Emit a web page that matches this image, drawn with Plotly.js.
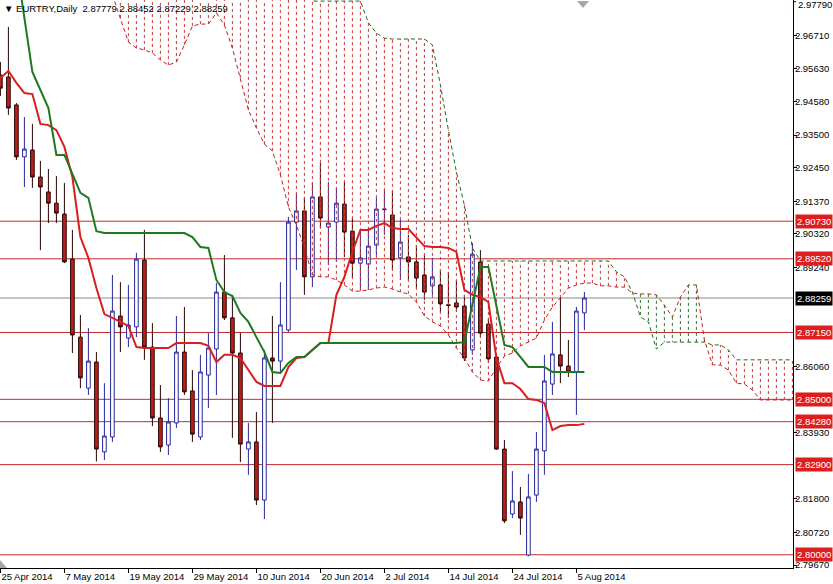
<!DOCTYPE html>
<html>
<head>
<meta charset="utf-8">
<script src="https://cdn.plot.ly/plotly-3.0.1.min.js"></script>
<style>html,body{margin:0;padding:0;background:#fff;}#chart{width:833px;height:584px;}</style>
</head>
<body>
<div id="chart"></div>
<script>
// ---- data (EURTRY daily, bar index 0 = 25 Apr 2014) ----
const tickIdx  = [0, 8, 16, 24, 32, 40, 48, 56, 64, 72];
const tickText = ['25 Apr 2014','7 May 2014','19 May 2014','29 May 2014','10 Jun 2014','20 Jun 2014','2 Jul 2014','14 Jul 2014','24 Jul 2014','5 Aug 2014'];

const openP = [2.9543,2.9537,2.9447,2.9280,2.9302,2.9215,2.9167,2.9131,2.9096,2.8951,
  2.8700,2.8536,2.8620,2.8331,2.8379,2.8768,2.8697,2.8733,2.8948,2.8668,
  2.8440,2.8353,2.8424,2.8652,2.8527,2.8379,2.8578,2.8662,2.8845,2.8762,
  2.8649,2.8340,2.8363,2.8176,2.8633,2.8623,2.8723,2.9070,2.9106,2.8894,
  2.9151,2.9054,2.9070,2.9128,2.9041,2.8938,2.8935,2.8996,2.9110,2.9093,
  2.8955,2.8958,2.8942,2.8900,2.8865,2.8868,2.8804,2.8810,2.8800,2.8659,
  2.8942,2.8742,2.8636,2.8340,2.8131,2.8170,2.7999,2.8192,2.8334,2.8549,
  2.8643,2.8607,2.8588,2.87779];
const highP = [2.9585,2.9698,2.9453,2.9408,2.9386,2.9267,2.9241,2.9218,2.9196,2.9045,
  2.8771,2.8729,2.8652,2.8552,2.8900,2.8877,2.8868,2.8971,2.9045,2.8745,
  2.8546,2.8504,2.8768,2.8797,2.8594,2.8643,2.8713,2.8874,2.8964,2.8836,
  2.8713,2.8424,2.8459,2.8659,2.8768,2.8877,2.9087,2.9164,2.9151,2.9199,
  2.9260,2.9199,2.9180,2.9199,2.9083,2.9045,2.9054,2.9148,2.9173,2.9173,
  2.9077,2.9029,2.8996,2.8964,2.8955,2.8916,2.8910,2.8884,2.8836,2.9003,
  2.8980,2.8762,2.8643,2.8369,2.8269,2.8218,2.8260,2.8395,2.8643,2.8749,
  2.8826,2.8691,2.8797,2.88452];
const lowP = [2.9476,2.9415,2.9270,2.9183,2.9180,2.8980,2.9067,2.9067,2.8938,2.8649,
  2.8536,2.8514,2.8300,2.8305,2.8363,2.8652,2.8668,2.8700,2.8627,2.8414,
  2.8331,2.8321,2.8408,2.8514,2.8363,2.8369,2.8472,2.8514,2.8755,2.8376,
  2.8298,2.8257,2.8160,2.8115,2.8424,2.8585,2.8717,2.8916,2.8836,2.8861,
  2.9051,2.8932,2.8942,2.8958,2.8890,2.8852,2.8852,2.8964,2.9029,2.8916,
  2.8884,2.8884,2.8858,2.8820,2.8836,2.8781,2.8762,2.8781,2.8623,2.8643,
  2.8700,2.8617,2.8337,2.8102,2.8118,2.8064,2.7995,2.8170,2.8257,2.8514,
  2.8552,2.8572,2.8450,2.87229];
const closeP = [2.9501,2.9437,2.9280,2.9305,2.9215,2.9183,2.9131,2.9099,2.8942,2.8707,
  2.8569,2.8623,2.8340,2.8382,2.8784,2.8733,2.8739,2.8951,2.8668,2.8440,
  2.8347,2.8427,2.8652,2.8524,2.8388,2.8588,2.8665,2.8845,2.8762,2.8649,
  2.8356,2.8363,2.8176,2.8633,2.8623,2.8739,2.9070,2.9106,2.8894,2.9151,
  2.9083,2.9067,2.9131,2.9038,2.8938,2.8955,2.8993,2.9112,2.9112,2.8948,
  2.9006,2.8942,2.8890,2.8845,2.8894,2.8807,2.8802,2.8797,2.8633,2.8967,
  2.8713,2.8630,2.8340,2.8109,2.8173,2.8118,2.8186,2.8340,2.8559,2.8646,
  2.8607,2.8588,2.8784,2.88259];

const tenkan = [2.9534,2.9556,2.9518,2.9485,2.9482,2.9386,2.9382,2.9366,2.9312,2.9215,
  2.9022,2.8955,2.8858,2.8774,2.8762,2.8749,2.8736,2.8668,2.8665,2.8665,
  2.8665,2.8665,2.8681,2.8681,2.8681,2.8681,2.8672,2.8620,2.8643,2.8643,
  2.8633,2.8594,2.8556,2.8543,2.8543,2.8543,2.8604,2.8633,2.8636,2.8659,
  2.8681,2.8681,2.8836,2.8894,2.8974,2.9045,2.9045,2.9058,2.9067,2.9051,
  2.9048,2.9048,2.9019,2.8993,2.8990,2.8990,2.8987,2.8974,2.8852,2.8836,
  2.8829,2.8813,2.8633,2.8552,2.8552,2.8533,2.8501,2.8498,2.8488,2.8401,
  2.8414,2.8417,2.8417,2.8421];
const kijun = [3.0150,3.0050,2.9900,2.9727,2.9553,2.9495,2.9437,2.9286,2.9286,2.9225,
  2.9164,2.9148,2.9041,2.9035,2.9035,2.9035,2.9035,2.9035,2.9035,2.9035,
  2.9035,2.9035,2.9035,2.9035,2.9022,2.8990,2.8987,2.8884,2.8845,2.8832,
  2.8778,2.8749,2.8700,2.8652,2.8588,2.8585,2.8617,2.8636,2.8636,2.8659,
  2.8681,2.8681,2.8681,2.8681,2.8681,2.8681,2.8681,2.8681,2.8681,2.8681,
  2.8681,2.8681,2.8681,2.8681,2.8681,2.8681,2.8681,2.8681,2.8684,2.8810,
  2.8926,2.8926,2.8803,2.8675,2.8668,2.8636,2.8604,2.8604,2.8604,2.8588,
  2.8588,2.8588,2.8588,2.8588];

// Senkou spans, first value at bar index 14, last at 99 (26 bars ahead)
const spanStart = 14;
const spanA = [2.9801,2.9727,2.9649,2.9630,2.9624,2.9614,2.9592,2.9575,2.9585,2.9640,
  2.9701,2.9707,2.9707,2.9743,2.9704,2.9630,2.9534,2.9431,2.9373,2.9321,
  2.9299,2.9222,2.9119,2.9061,2.8987,2.8900,2.8894,2.8894,2.8884,2.8868,
  2.8848,2.8848,2.8852,2.8858,2.8861,2.8855,2.8845,2.8839,2.8813,2.8768,
  2.8749,2.8736,2.8707,2.8665,2.8633,2.8588,2.8562,2.8559,2.8601,2.8639,
  2.8649,2.8672,2.8684,2.8697,2.8755,2.8797,2.8826,2.8858,2.8868,2.8874,
  2.8874,2.8865,2.8865,2.8861,2.8861,2.8842,2.8839,2.8839,2.8836,2.8803,
  2.8765,2.8829,2.8868,2.8868,2.8691,2.8611,2.8610,2.8594,2.8552,2.8549,
  2.8530,2.8498,2.8498,2.8498,2.8498,2.8498];
const spanB = [2.9900,2.9900,2.9900,2.9900,2.9900,2.9900,2.9900,2.9900,2.9900,2.9900,
  2.9900,2.9900,2.9900,2.9900,2.9900,2.9900,2.9900,2.9900,2.9900,2.9900,
  2.9900,2.9900,2.9900,2.9900,2.9900,2.9781,2.9781,2.9781,2.9781,2.9781,
  2.9781,2.9781,2.9711,2.9678,2.9662,2.9659,2.9659,2.9659,2.9659,2.9659,
  2.9640,2.9511,2.9366,2.9231,2.9125,2.8987,2.8945,2.8945,2.8945,2.8945,
  2.8945,2.8945,2.8945,2.8945,2.8945,2.8945,2.8945,2.8945,2.8945,2.8945,
  2.8945,2.8945,2.8945,2.8910,2.8894,2.8845,2.8765,2.8749,2.8662,2.8684,
  2.8684,2.8684,2.8684,2.8684,2.8684,2.8675,2.8675,2.8659,2.8627,2.8627,
  2.8627,2.8627,2.8627,2.8627,2.8627,2.8627];

const levels   = [2.90730, 2.89520, 2.87150, 2.85000, 2.84280, 2.82900, 2.80000];
const bidPrice = 2.88259;
const topTick  = 2.97790;
const yTickVals = [2.96710,2.95630,2.94580,2.93500,2.92450,2.91370,2.90320,2.89240,2.86060,2.83930,2.81800,2.80720,2.79670];
const headerText = 'EURTRY,Daily  2.87779 2.88452 2.87229 2.88259';

// ---- build traces ----
const idx = openP.map((_, i) => i);
const spanX = spanA.map((_, i) => i + spanStart);

const hatchRed = {x: [], y: []}, hatchGreen = {x: [], y: []};
spanA.forEach((a, k) => {
  const b = spanB[k], xi = spanX[k];
  const h = (b >= a) ? hatchRed : hatchGreen;
  h.x.push(xi, xi, null); h.y.push(a, b, null);
});

const FONT = 'Liberation Sans, Arial, sans-serif';
const traces = [
  {type:'scatter', mode:'lines', x: hatchRed.x, y: hatchRed.y, connectgaps:false,
   line:{color:'#cc3a3a', width:1, dash:'3px,3px'}, hoverinfo:'skip'},
  {type:'scatter', mode:'lines', x: hatchGreen.x, y: hatchGreen.y, connectgaps:false,
   line:{color:'#2d7a2d', width:1, dash:'3px,3px'}, hoverinfo:'skip'},
  {type:'scatter', mode:'lines', x: spanX, y: spanA,
   line:{color:'#c41e1e', width:1, dash:'4px,3px'}, hoverinfo:'skip'},
  {type:'scatter', mode:'lines', x: spanX, y: spanB,
   line:{color:'#1d6a1d', width:1, dash:'4px,3px'}, hoverinfo:'skip'},
  {type:'candlestick', x: idx, open: openP, high: highP, low: lowP, close: closeP,
   increasing:{line:{color:'#25259a', width:1}, fillcolor:'#ffffff'},
   decreasing:{line:{color:'#2a0505', width:1}, fillcolor:'#b8211f'},
   whiskerwidth:0, hoverinfo:'skip'},
  {type:'scatter', mode:'lines', x: idx, y: tenkan,
   line:{color:'#d81f1f', width:2}, hoverinfo:'skip'},
  {type:'scatter', mode:'lines', x: idx, y: kijun,
   line:{color:'#1f7a1f', width:2}, hoverinfo:'skip'}
];

const shapes = levels.map(v => ({type:'line', xref:'paper', x0:0, x1:1, yref:'y', y0:v, y1:v,
  line:{color:'#c42a2a', width:1}, layer:'below'}));
shapes.push({type:'line', xref:'paper', x0:0, x1:1, yref:'y', y0:bidPrice, y1:bidPrice,
  line:{color:'#8a8a8a', width:1}, layer:'below'});
shapes.push({type:'line', xref:'paper', x0:1, x1:1.0038, yref:'y', y0:topTick, y1:topTick,
  line:{color:'#000', width:1}});
shapes.push({type:'path', xref:'paper', yref:'paper',
  path:'M 0.7276 0.9982 L 0.7427 0.9982 L 0.7352 0.9859 Z', fillcolor:'#a8a8a8', line:{width:0}});
shapes.push({type:'path', xref:'paper', yref:'paper',
  path:'M 0 0.0141 L 0 0 L 0.0088 0 Z', fillcolor:'#a8a8a8', line:{width:0}});

const annotations = levels.map(v => ({xref:'paper', x:1, xanchor:'left', xshift:2, yref:'y', y:v,
  yanchor:'middle', text:v.toFixed(5), showarrow:false, bgcolor:'#dc1e1e', borderpad:1,
  font:{family:FONT, size:9.5, color:'#ffffff'}}));
annotations.push({xref:'paper', x:1, xanchor:'left', xshift:2, yref:'y', y:bidPrice,
  yanchor:'middle', text:bidPrice.toFixed(5), showarrow:false, bgcolor:'#000000', borderpad:1,
  font:{family:FONT, size:9.5, color:'#ffffff'}});
annotations.push({xref:'paper', x:1, xanchor:'left', xshift:3, yref:'paper', y:1, yanchor:'top', yshift:3,
  text:topTick.toFixed(5), showarrow:false, font:{family:FONT, size:9.5, color:'#000000'}});
annotations.push({xref:'paper', x:0, xanchor:'left', xshift:2, yref:'paper', y:1, yanchor:'top', yshift:-1,
  text:'▼ ' + headerText, showarrow:false, font:{family:FONT, size:9.5, color:'#000000'}});

const layout = {
  width: 833, height: 584,
  margin: {l:0, r:40, t:0, b:16, pad:0},
  paper_bgcolor:'#ffffff', plot_bgcolor:'#ffffff',
  showlegend:false, boxgap:0.35, hovermode:false,
  xaxis: {range:[-0.05, 99.075], tickvals: tickIdx, ticktext: tickText,
    ticks:'outside', ticklen:4, tickcolor:'#000', showgrid:false, zeroline:false,
    showline:true, linecolor:'#000', linewidth:1, ticklabelposition:'outside right',
    tickfont:{family:FONT, size:9.5, color:'#000'}, rangeslider:{visible:false}, fixedrange:true},
  yaxis: {side:'right', range:[2.79574, 2.97845], tickvals: yTickVals,
    ticktext: yTickVals.map(v => v.toFixed(5)), ticks:'outside', ticklen:3, tickcolor:'#000',
    ticklabelstandoff:-4,
    showgrid:false, zeroline:false, showline:true, linecolor:'#000', linewidth:1,
    tickfont:{family:FONT, size:9.5, color:'#000'}, fixedrange:true},
  shapes: shapes,
  annotations: annotations
};

Plotly.newPlot('chart', traces, layout, {displayModeBar:false, staticPlot:true});
</script>
</body>
</html>
